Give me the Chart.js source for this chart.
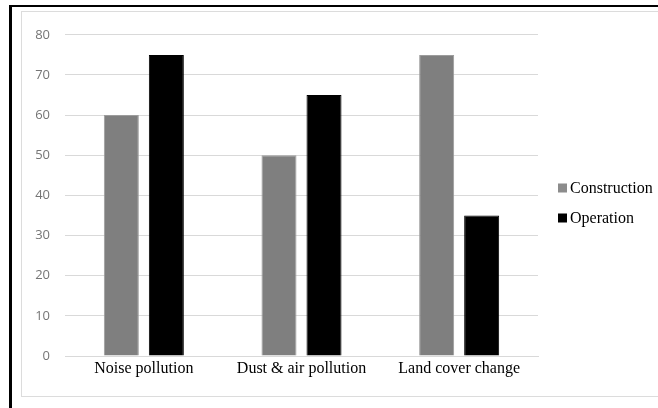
<!DOCTYPE html>
<html>
<head>
<meta charset="utf-8">
<script src="https://cdn.jsdelivr.net/npm/chart.js@4"></script>
<style>
  html, body { margin: 0; padding: 0; background: #fff; width: 658px; height: 408px; overflow: hidden; }
  #frame {
    position: absolute; left: 9px; top: 5px; width: 700px; height: 460px;
    border-top: 2px solid #000; border-left: 3px solid #000;
  }
  #box {
    position: absolute; left: 21px; top: 11px; width: 660px; height: 384px;
    border: 1px solid #dcdcdc;
  }
  #wrap { position: absolute; left: 22px; top: 12px; width: 636px; height: 384px; }
</style>
</head>
<body>
<div id="frame"></div>
<div id="box"></div>
<div id="wrap"><canvas id="c"></canvas></div>
<script>
const categories = ['Noise pollution', 'Dust & air pollution', 'Land cover change'];
const construction = [60, 50, 75];
const operation = [75, 65, 35];
const yTicks = [0, 10, 20, 30, 40, 50, 60, 70, 80];

const serif = '"Liberation Serif", "Times New Roman", serif';

// Legend drawn at the right, vertically stacked, small square swatches
const sideLegend = {
  id: 'sideLegend',
  afterDraw(chart) {
    const ctx = chart.ctx;
    const x = 536, y0 = 176, step = 30, sw = 9;
    ctx.save();
    ctx.font = '16px ' + serif;
    ctx.textBaseline = 'middle';
    chart.data.datasets.forEach((ds, i) => {
      const y = y0 + i * step;
      ctx.fillStyle = ds.legendColor;
      ctx.fillRect(x, y - sw / 2, sw, sw);
      ctx.fillStyle = '#000';
      ctx.fillText(ds.label, x + sw + 3, y + 1);
    });
    ctx.restore();
  }
};

new Chart(document.getElementById('c'), {
  type: 'bar',
  data: {
    labels: categories,
    datasets: [
      { label: 'Construction', data: construction, backgroundColor: '#7f7f7f',
        borderColor: '#9c9c9c', borderWidth: 1, legendColor: '#8c8c8c',
        barPercentage: 0.778, categoryPercentage: 0.571 },
      { label: 'Operation', data: operation, backgroundColor: '#000',
        borderColor: '#000', borderWidth: 1, legendColor: '#000',
        barPercentage: 0.778, categoryPercentage: 0.571 }
    ]
  },
  options: {
    responsive: true,
    maintainAspectRatio: false,
    animation: false,
    layout: { padding: { top: 18, right: 120, left: 0, bottom: 0 } },
    plugins: { legend: { display: false }, tooltip: { enabled: false } },
    scales: {
      x: {
        grid: { display: false, drawTicks: false },
        border: { display: true, color: '#d9d9d9', width: 1 },
        ticks: { color: '#000', font: { family: serif, size: 16 }, padding: 3, maxRotation: 0 },
        afterFit(scale) { scale.height = 40; }
      },
      y: {
        min: 0, max: 80,
        afterBuildTicks(scale) { scale.ticks = yTicks.map(v => ({ value: v })); },
        grid: { color: '#d9d9d9', lineWidth: 1, drawTicks: false },
        border: { display: false },
        ticks: { color: '#757575', font: { family: '"Open Sans", sans-serif', size: 13 }, padding: 15 },
        afterFit(scale) { scale.width = 43; }
      }
    }
  },
  plugins: [sideLegend]
});
</script>
</body>
</html>
